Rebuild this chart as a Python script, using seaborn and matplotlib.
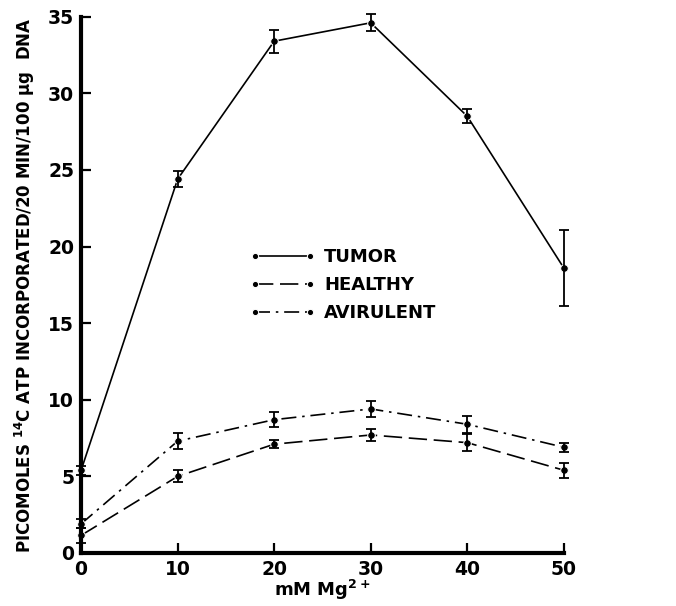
import numpy as np
import pandas as pd
import matplotlib
matplotlib.use("Agg")
import matplotlib.pyplot as plt
import seaborn as sns

# values
mg = [0, 10, 20, 30, 40, 50]
tumor = [5.4, 24.4, 33.4, 34.6, 28.5, 18.6]
tumor_err = [0.3, 0.5, 0.75, 0.55, 0.45, 2.5]
healthy = [1.15, 5.0, 7.1, 7.7, 7.2, 5.4]
healthy_err = [0.5, 0.4, 0.25, 0.4, 0.55, 0.5]
avirulent = [1.9, 7.3, 8.7, 9.4, 8.4, 6.9]
avirulent_err = [0.3, 0.5, 0.5, 0.55, 0.55, 0.3]
groups = ["TUMOR", "HEALTHY", "AVIRULENT"]

df = pd.concat([
    pd.DataFrame({"mg": mg, "val": tumor, "err": tumor_err, "group": "TUMOR"}),
    pd.DataFrame({"mg": mg, "val": healthy, "err": healthy_err, "group": "HEALTHY"}),
    pd.DataFrame({"mg": mg, "val": avirulent, "err": avirulent_err, "group": "AVIRULENT"}),
])

sns.set_style("ticks")
plt.rcParams["font.family"] = ["DejaVu Sans"]
plt.rcParams["font.weight"] = "bold"
plt.rcParams["text.color"] = "black"
plt.rcParams["axes.labelcolor"] = "black"
plt.rcParams["xtick.color"] = "black"
plt.rcParams["ytick.color"] = "black"
plt.rcParams["axes.edgecolor"] = "black"
plt.rcParams["mathtext.fontset"] = "custom"
plt.rcParams["mathtext.rm"] = "DejaVu Sans:bold"
plt.rcParams["mathtext.default"] = "rm"

fig = plt.figure(figsize=(6.76, 6.06), dpi=100)
ax = fig.add_axes([0.12, 0.0875, 0.714, 0.885])

dashes = {"TUMOR": "", "HEALTHY": (11, 4), "AVIRULENT": (9, 3.5, 1.5, 3.5)}
sns.lineplot(data=df, x="mg", y="val", style="group", style_order=groups,
             dashes=dashes, markers={g: "o" for g in groups}, color="black",
             linewidth=1.2, markersize=5.5, ax=ax, legend=True)
for ln in ax.lines:
    ln.set_clip_on(False)

for g in groups:
    d = df[df["group"] == g]
    eb = ax.errorbar(d["mg"], d["val"], yerr=d["err"], fmt="none", ecolor="black",
                     elinewidth=1.3, capsize=3.5, capthick=1.3)
    for art in eb.get_children():
        art.set_clip_on(False)

ax.set_xlim(0, 50)
ax.set_ylim(0, 35)
ax.set_xticks(mg)
ax.set_yticks(np.arange(0, 36, 5))
ax.tick_params(direction="in", length=7, width=1.6, labelsize=13.5, pad=5)
sns.despine(ax=ax)
ax.spines["left"].set_linewidth(3)
ax.spines["bottom"].set_linewidth(3)
ax.set_xlabel("mM Mg$^{2+}$", fontsize=13, fontweight="bold", labelpad=-1)
ax.set_ylabel("PICOMOLES $^{14}$C ATP INCORPORATED/20 MIN/100 μg  DNA",
              fontsize=12, fontweight="bold", labelpad=8)

leg = ax.legend(title=None, loc="upper left", bbox_to_anchor=(0.335, 0.582),
                frameon=False, fontsize=13, numpoints=2, handlelength=3.6,
                handletextpad=0.5, labelspacing=0.55, borderaxespad=0)
for h in leg.get_lines():
    h.set_markersize(4.5)

fig.savefig("out.png", dpi=100)
